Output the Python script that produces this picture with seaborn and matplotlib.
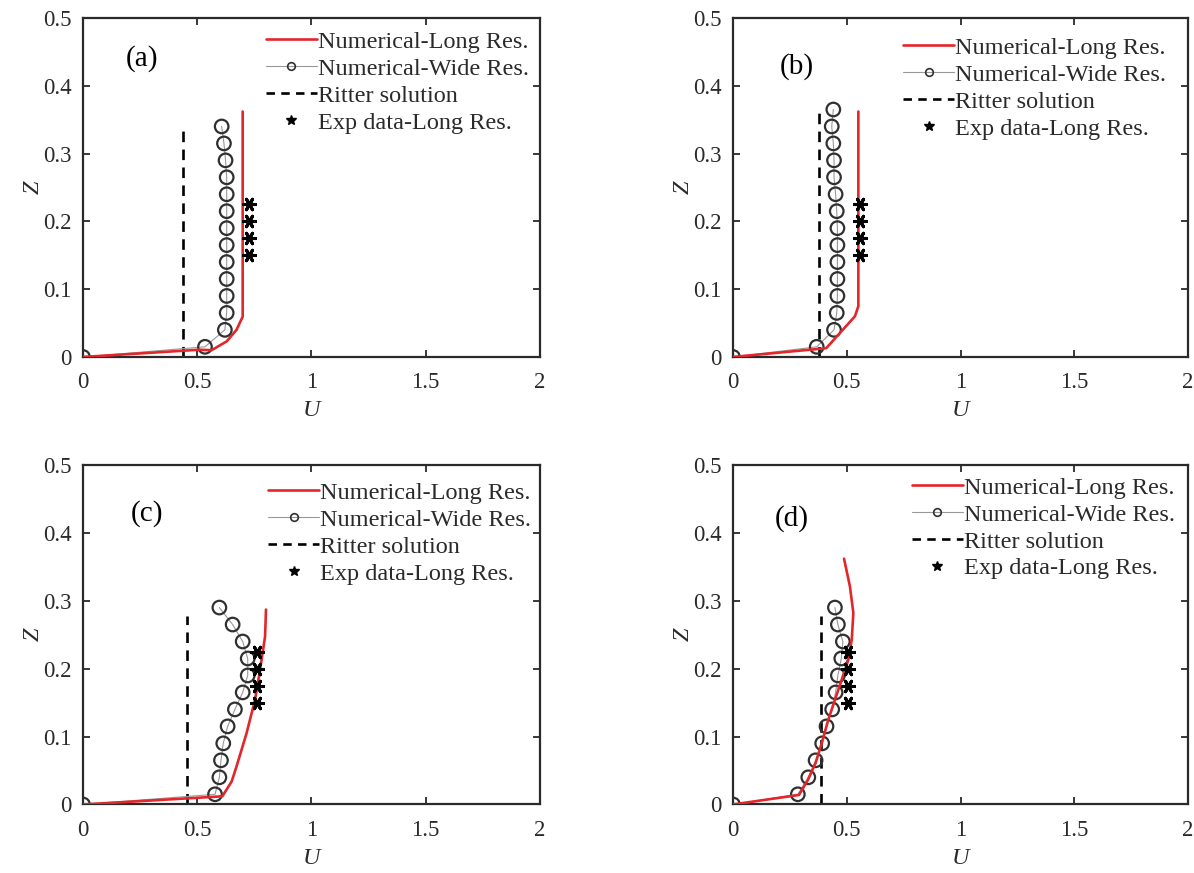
import matplotlib
matplotlib.use("Agg")
import matplotlib.pyplot as plt
from matplotlib.lines import Line2D
import numpy as np
import pandas as pd
import seaborn as sns

# ---------------- data ----------------
# (a)
a_long_u = [0.0, 0.51, 0.563, 0.629, 0.672, 0.699, 0.699]
a_long_z = [0.0, 0.0107, 0.010, 0.023, 0.040, 0.0595, 0.362]
a_wide_u = [0.0, 0.534, 0.621, 0.629, 0.629, 0.629, 0.629, 0.629, 0.629, 0.629, 0.629, 0.629, 0.624, 0.617, 0.607]
a_wide_z = [0.0, 0.015, 0.04, 0.065, 0.09, 0.115, 0.14, 0.165, 0.19, 0.215, 0.24, 0.265, 0.29, 0.315, 0.34]
a_exp_u = [0.728, 0.728, 0.728, 0.728]
a_ritter_u = [0.436, 0.436]
a_ritter_z = [0.0, 0.335]

# (b)
b_long_u = [0.0, 0.41, 0.536, 0.551, 0.551]
b_long_z = [0.0, 0.013, 0.06, 0.075, 0.362]
b_wide_u = [0.0, 0.368, 0.444, 0.456, 0.459, 0.459, 0.459, 0.459, 0.459, 0.456, 0.451, 0.444, 0.444, 0.441, 0.434, 0.441]
b_wide_z = [0.0, 0.015, 0.04, 0.065, 0.09, 0.115, 0.14, 0.165, 0.19, 0.215, 0.24, 0.265, 0.29, 0.315, 0.34, 0.365]
b_exp_u = [0.558, 0.558, 0.558, 0.558]
b_ritter_u = [0.378, 0.378]
b_ritter_z = [0.0, 0.362]

# (c)
c_long_u = [0.0, 0.61, 0.651, 0.672, 0.716, 0.753, 0.775, 0.797, 0.801]
c_long_z = [0.0, 0.012, 0.034, 0.056, 0.105, 0.154, 0.198, 0.2475, 0.287]
c_wide_u = [0.0, 0.578, 0.597, 0.604, 0.614, 0.633, 0.665, 0.699, 0.721, 0.721, 0.699, 0.655, 0.597]
c_wide_z = [0.0, 0.015, 0.04, 0.065, 0.09, 0.115, 0.14, 0.165, 0.19, 0.215, 0.24, 0.265, 0.29]
c_exp_u = [0.76, 0.76, 0.76, 0.76]
c_ritter_u = [0.454, 0.454]
c_ritter_z = [0.0, 0.277]

# (d)
d_long_u = [0.0, 0.29, 0.329, 0.363, 0.39, 0.419, 0.448, 0.478, 0.507, 0.522, 0.529, 0.514, 0.488]
d_long_z = [0.0, 0.014, 0.036, 0.061, 0.090, 0.125, 0.154, 0.184, 0.213, 0.243, 0.282, 0.321, 0.362]
d_wide_u = [0.0, 0.285, 0.331, 0.363, 0.392, 0.411, 0.436, 0.451, 0.461, 0.476, 0.483, 0.461, 0.448]
d_wide_z = [0.0, 0.015, 0.04, 0.065, 0.09, 0.115, 0.14, 0.165, 0.19, 0.215, 0.24, 0.265, 0.29]
d_exp_u = [0.506, 0.506, 0.506, 0.506]
d_ritter_u = [0.388, 0.388]
d_ritter_z = [0.0, 0.277]

exp_z = [0.225, 0.2, 0.175, 0.15]

panel_labels = ["(a)", "(b)", "(c)", "(d)"]
legend_labels = ["Numerical-Long Res.", "Numerical-Wide Res.", "Ritter solution", "Exp data-Long Res."]
x_ticks = [0, 0.5, 1, 1.5, 2]
x_tick_labels = ["0", "0.5", "1", "1.5", "2"]
y_ticks = [0, 0.1, 0.2, 0.3, 0.4, 0.5]
y_tick_labels = ["0", "0.1", "0.2", "0.3", "0.4", "0.5"]

panels = [
    (a_long_u, a_long_z, a_wide_u, a_wide_z, a_exp_u, a_ritter_u, a_ritter_z),
    (b_long_u, b_long_z, b_wide_u, b_wide_z, b_exp_u, b_ritter_u, b_ritter_z),
    (c_long_u, c_long_z, c_wide_u, c_wide_z, c_exp_u, c_ritter_u, c_ritter_z),
    (d_long_u, d_long_z, d_wide_u, d_wide_z, d_exp_u, d_ritter_u, d_ritter_z),
]

# ---------------- style ----------------
sns.set_style("ticks")
plt.rcParams["font.family"] = ["Liberation Serif", "DejaVu Serif"]

RED = "#e3262a"
INK = "#2a2a2a"
TICK_FS = 16.5
LEG_FS = 17.5

fig = plt.figure(figsize=(11.94, 8.73), dpi=100)
axes_rects = [
    (0.0695, 0.5911, 0.3827, 0.3883),
    (0.6139, 0.5911, 0.3811, 0.3883),
    (0.0695, 0.0785, 0.3827, 0.3889),
    (0.6139, 0.0785, 0.3811, 0.3889),
]
label_pos = [(0.13, 0.88), (0.14, 0.857), (0.14, 0.857), (0.13, 0.842)]
legend_anchor = [(0.40, 0.962), (0.374, 0.944), (0.405, 0.950), (0.393, 0.965)]

for i, (rect, data) in enumerate(zip(axes_rects, panels)):
    long_u, long_z, wide_u, wide_z, exp_u, rit_u, rit_z = data
    ax = fig.add_axes(rect)

    # Ritter analytical solution
    sns.lineplot(x=rit_u, y=rit_z, ax=ax, estimator=None, sort=False,
                 color="black", lw=1.9, zorder=2)
    ax.lines[-1].set_dashes((4, 2.8))

    # wide reservoir profile: thin connector + open circles
    sns.lineplot(x=wide_u, y=wide_z, ax=ax, estimator=None, sort=False,
                 color="0.6", lw=0.8, zorder=3)
    sns.scatterplot(x=wide_u, y=wide_z, ax=ax, s=95, marker="o",
                    facecolor="none", edgecolor="#303030", linewidth=1.6, zorder=4)

    # long reservoir profile
    sns.lineplot(x=long_u, y=long_z, ax=ax, estimator=None, sort=False,
                 color=RED, lw=1.9, zorder=5)

    # experimental data
    sns.scatterplot(x=exp_u, y=exp_z, ax=ax, s=75, marker=(6, 2, 90),
                    color="black", edgecolor="black", linewidth=2.2, zorder=6)

    ax.set_xlim(0, 2)
    ax.set_ylim(0, 0.5)
    ax.set_xticks(x_ticks)
    ax.set_xticklabels(x_tick_labels)
    ax.set_yticks(y_ticks)
    ax.set_yticklabels(y_tick_labels)
    ax.tick_params(direction="in", length=5, width=1.3, top=True, right=True,
                   labelsize=TICK_FS, colors=INK)
    ax.tick_params(axis="x", pad=11)
    ax.tick_params(axis="y", pad=8)
    for sp in ax.spines.values():
        sp.set_visible(True)
        sp.set_linewidth(1.6)
        sp.set_color(INK)
    ax.set_xlabel("U", fontsize=TICK_FS + 1, fontstyle="italic", color=INK, labelpad=5)
    ax.set_ylabel("Z", fontsize=TICK_FS + 1, fontstyle="italic", color=INK, labelpad=0)

    ax.text(label_pos[i][0], label_pos[i][1], panel_labels[i], transform=ax.transAxes,
            fontsize=21, color="black", ha="center", va="center")

    handles = [
        Line2D([], [], color=RED, lw=1.9),
        Line2D([], [], color="0.6", lw=0.8, marker="o", ms=5.5, mfc="none",
               mec="#303030", mew=1.2),
        Line2D([], [], color="black", lw=1.9, dashes=(3.2, 2.4)),
        Line2D([], [], color="black", lw=0, marker="*", ms=7),
    ]
    ax.legend(handles, legend_labels, loc="upper left", bbox_to_anchor=legend_anchor[i],
              frameon=False, fontsize=LEG_FS, borderpad=0, borderaxespad=0,
              handlelength=2.1, handletextpad=0.05, labelspacing=0.2,
              labelcolor=INK)

fig.savefig("out.png", dpi=100)
